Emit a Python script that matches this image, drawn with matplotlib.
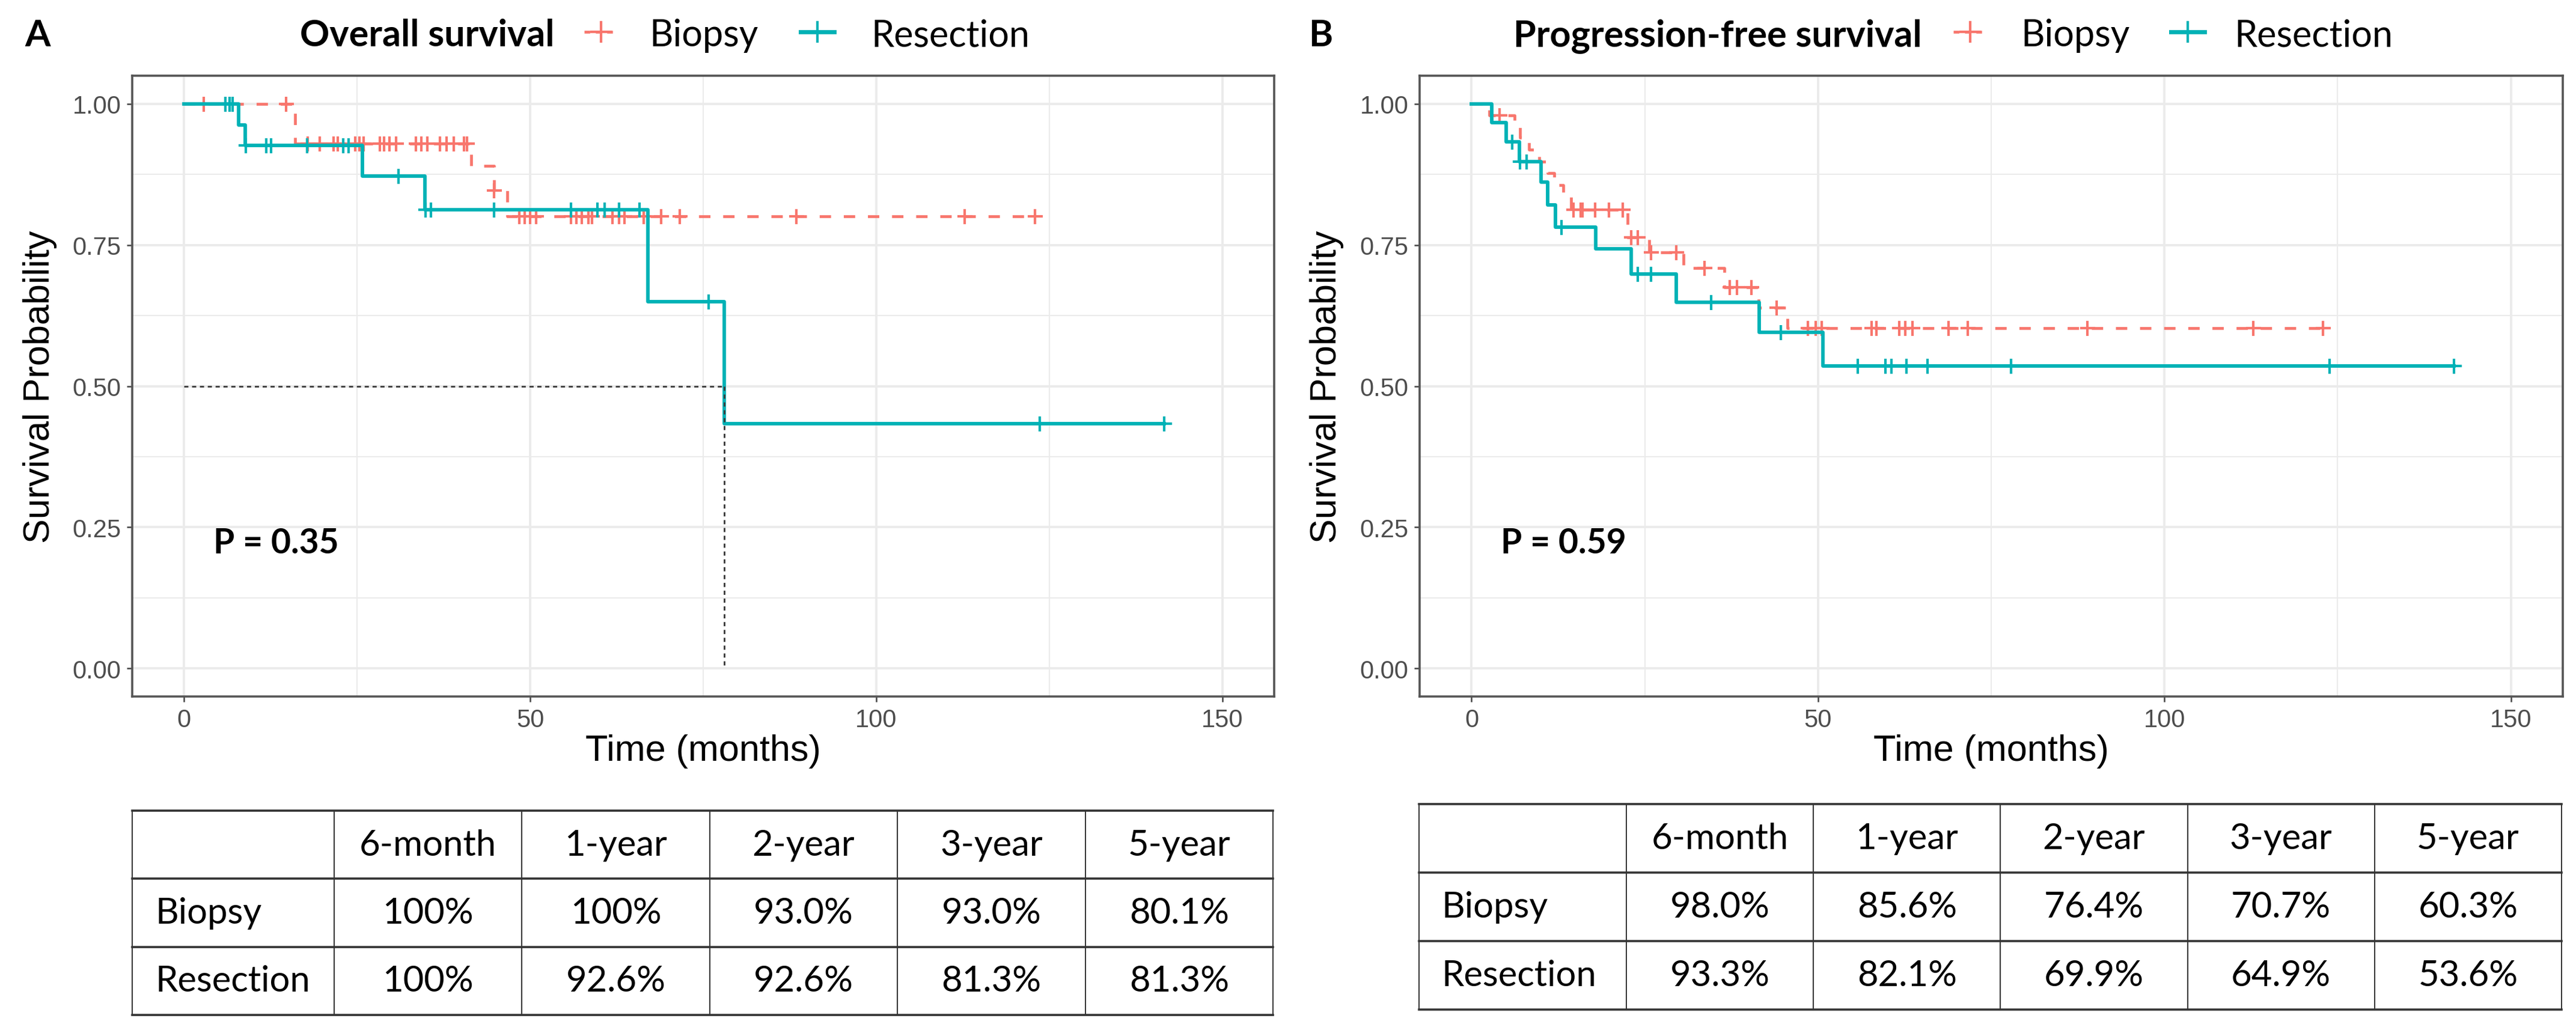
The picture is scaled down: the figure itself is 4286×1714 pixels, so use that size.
import numpy as np
import matplotlib
matplotlib.use('Agg')
import matplotlib.pyplot as plt
from matplotlib.lines import Line2D

# ---------------- data ----------------
groups = ['Biopsy', 'Resection']

# Overall survival (months)
os_biopsy_t = [0, 16.0, 41.5, 44.8, 46.7]
os_biopsy_s = [1.0, 0.930, 0.890, 0.847, 0.801]
os_biopsy_end = 122.9
os_biopsy_censor = [2.8, 14.7, 17.9, 19.6, 21.6, 22.2, 24.7, 25.3, 25.9, 28.3, 28.9,
                    29.7, 30.6, 33.5, 34.3, 35.1, 37.0, 37.9, 39.0, 40.4, 40.9, 44.8,
                    48.4, 49.2, 50.0, 50.9, 55.9, 56.7, 57.5, 58.4, 58.9, 61.9, 62.8,
                    63.6, 66.4, 68.9, 71.6, 88.5, 112.8, 122.9]

os_resection_t = [0, 7.9, 8.8, 25.8, 34.8, 67.0, 78.0]
os_resection_s = [1.0, 0.963, 0.926, 0.872, 0.813, 0.650, 0.433]
os_resection_end = 141.6
os_resection_censor = [6.0, 6.6, 7.0, 8.9, 11.9, 12.6, 17.8, 23.0, 23.8, 31.0, 34.9,
                       35.7, 44.8, 55.9, 59.7, 60.8, 62.8, 65.8, 75.8, 123.6, 141.6]

# Progression-free survival (months)
pfs_biopsy_t = [0, 2.6, 6.2, 7.0, 8.3, 9.8, 11.0, 11.9, 13.2, 14.4, 22.5, 25.6,
                30.6, 36.5, 41.4, 45.6]
pfs_biopsy_s = [1.0, 0.980, 0.960, 0.940, 0.919, 0.898, 0.877, 0.856, 0.835, 0.813,
                0.764, 0.737, 0.709, 0.675, 0.639, 0.603]
pfs_biopsy_end = 122.9
pfs_biopsy_censor = [4.05, 14.7, 15.75, 16.0, 17.8, 19.8, 21.8, 23.0, 24.0, 25.9, 29.5,
                     33.6, 37.3, 38.3, 40.4, 44.0, 48.5, 49.7, 50.5, 57.7, 58.4, 61.7,
                     62.6, 63.6, 68.8, 71.6, 88.9, 112.8, 122.9]

pfs_resection_t = [0, 2.9, 5.0, 6.9, 10.0, 11.0, 12.1, 17.9, 23.0, 29.5, 41.5, 50.7]
pfs_resection_s = [1.0, 0.967, 0.933, 0.898, 0.861, 0.821, 0.782, 0.743, 0.699, 0.649,
                   0.595, 0.536]
pfs_resection_end = 141.8
pfs_resection_censor = [5.9, 6.95, 7.9, 13.0, 24.0, 25.9, 34.6, 44.6, 55.7, 59.7, 60.6,
                        62.8, 65.8, 77.9, 123.8, 141.8]

os_pvalue = 'P = 0.35'
pfs_pvalue = 'P = 0.59'

periods = ['6-month', '1-year', '2-year', '3-year', '5-year']
os_table_biopsy = ['100%', '100%', '93.0%', '93.0%', '80.1%']
os_table_resection = ['100%', '92.6%', '92.6%', '81.3%', '81.3%']
pfs_table_biopsy = ['98.0%', '85.6%', '76.4%', '70.7%', '60.3%']
pfs_table_resection = ['93.3%', '82.1%', '69.9%', '64.9%', '53.6%']

x_major = [0, 50, 100, 150]
x_minor = [25, 75, 125]
y_major = [0.0, 0.25, 0.5, 0.75, 1.0]
y_minor = [0.125, 0.375, 0.625, 0.875]
y_ticklabels = ['0.00', '0.25', '0.50', '0.75', '1.00']

# ---------------- style ----------------
W, H = 4286, 1715
DPI = 100
RED = '#F8766D'
TEAL = '#00B2B6'
GRID = '#EBEBEB'
HFONT = 'Lato'
AFONT = 'Liberation Sans'

fig = plt.figure(figsize=(W / DPI, H / DPI), dpi=DPI)


def rect(x0, y0, x1, y1):
    return [x0 / W, 1 - y1 / H, (x1 - x0) / W, (y1 - y0) / H]


def step_xy(t, s, end):
    return list(t) + [end], list(s) + [s[-1]]


def surv_at(t, s, c):
    idx = np.searchsorted(np.asarray(t), np.asarray(c), side='right') - 1
    return np.asarray(s)[idx]


def km_panel(box, curves, pval, median=None):
    ax = fig.add_axes(rect(*box))
    ax.set_xlim(-7.5, 157.5)
    ax.set_ylim(-0.05, 1.05)
    ax.set_xticks(x_major)
    ax.set_xticks(x_minor, minor=True)
    ax.set_yticks(y_major)
    ax.set_yticks(y_minor, minor=True)
    ax.set_yticklabels(y_ticklabels)
    ax.grid(which='major', color=GRID, lw=2.8)
    ax.grid(which='minor', color=GRID, lw=1.5)
    ax.set_axisbelow(True)
    for sp in ax.spines.values():
        sp.set_color('#555555')
        sp.set_linewidth(2.6)
    ax.tick_params(which='major', length=6.5, width=1.8, color='#444444',
                   labelsize=30, labelcolor='#4D4D4D', pad=7)
    ax.tick_params(which='minor', length=0)
    for lab in ax.get_xticklabels() + ax.get_yticklabels():
        lab.set_fontfamily(AFONT)

    for (t, s, end, cens, color, style, lw, z) in curves:
        xs, ys = step_xy(t, s, end)
        if style == 'dashed':
            ax.step(xs, ys, where='post', color=color, lw=lw, ls=(0, (4, 4.5)), zorder=z)
        else:
            ax.step(xs, ys, where='post', color=color, lw=lw, zorder=z)
        ax.plot(cens, surv_at(t, s, cens), ls='none', marker='+', ms=18, mew=3.0,
                color=color, zorder=z)

    if median is not None:
        t, s = median
        idx = int(np.argmax(np.asarray(s) <= 0.5))
        tm = t[idx]
        ax.plot([0, tm], [0.5, 0.5], color='#3a3a3a', lw=2.0, ls=(0, (2.5, 2.2)), zorder=5)
        ax.plot([tm, tm], [0.5, 0.0], color='#3a3a3a', lw=2.0, ls=(0, (2.5, 2.2)), zorder=5)

    ax.text(4.2, 0.222, pval, fontfamily=HFONT, fontweight='bold', fontsize=41,
            ha='left', va='center')
    ax.set_xlabel('Time (months)', fontfamily=AFONT, fontsize=44)
    ax.set_ylabel('Survival Probability', fontfamily=AFONT, fontsize=44)
    ax.xaxis.set_label_coords(0.5, -0.060)
    ax.yaxis.set_label_coords(-0.066, 0.5)
    ax.xaxis.label.set_va('top')
    return ax


def header(letter, lx, title, tx, k1, l1x, k2, l2x):
    base = 1 - 77 / H
    fig.text(lx / W, base, letter, fontfamily=HFONT, fontweight='bold', fontsize=44,
             ha='left', va='baseline')
    fig.text(tx / W, base, title, fontfamily=HFONT, fontweight='bold', fontsize=44,
             ha='left', va='baseline')
    ky = 1 - 54 / H
    for cx, color, ls, lw in [(k1, RED, (0, (2.0, 2.0)), 3.4), (k2, TEAL, '-', 5.0)]:
        fig.add_artist(Line2D([(cx - 28) / W, (cx + 28) / W], [ky, ky],
                              transform=fig.transFigure, color=color, ls=ls, lw=lw))
        fig.add_artist(Line2D([cx / W], [ky], transform=fig.transFigure, color=color,
                              marker='+', ms=26, mew=3.0, ls='none'))
    fig.text(l1x / W, base, groups[0], fontfamily=HFONT, fontsize=44,
             ha='left', va='baseline')
    fig.text(l2x / W, base, groups[1], fontfamily=HFONT, fontsize=44,
             ha='left', va='baseline')


def table(box, label_w, row_values):
    tax = fig.add_axes(rect(*box))
    tax.set_xlim(0, 1)
    tax.set_ylim(0, 1)
    tax.axis('off')
    width_px = box[2] - box[0]
    lf = label_w / width_px
    n = len(periods)
    xs = [0, lf] + [lf + (1 - lf) * (i + 1) / n for i in range(n)]
    nr = len(row_values) + 1
    ys = [1 - i / nr for i in range(nr + 1)]
    for y in ys:
        tax.plot([0, 1], [y, y], color='#333333', lw=2.6, solid_capstyle='projecting',
                 clip_on=False)
    for x in xs:
        tax.plot([x, x], [0, 1], color='#333333', lw=1.4, clip_on=False)
    for j, p in enumerate(periods):
        tax.text((xs[j + 1] + xs[j + 2]) / 2, (ys[0] + ys[1]) / 2, p, fontfamily=HFONT,
                 fontsize=43, ha='center', va='center')
    for i, (lab, vals) in enumerate(zip(groups, row_values)):
        yc = (ys[i + 1] + ys[i + 2]) / 2
        tax.text(38 / width_px, yc, lab, fontfamily=HFONT, fontsize=43, ha='left',
                 va='center')
        for j, v in enumerate(vals):
            tax.text((xs[j + 1] + xs[j + 2]) / 2, yc, v, fontfamily=HFONT, fontsize=43,
                     ha='center', va='center')


# Panel A
km_panel((220, 127, 2120, 1160),
         [(os_biopsy_t, os_biopsy_s, os_biopsy_end, os_biopsy_censor, RED, 'dashed', 3.4, 3),
          (os_resection_t, os_resection_s, os_resection_end, os_resection_censor, TEAL, 'solid', 4.2, 4)],
         os_pvalue, median=(os_resection_t, os_resection_s))
header('A', 41, 'Overall survival', 499, 1000, 1080, 1360, 1449)
table((220, 1350, 2118, 1690), 336, [os_table_biopsy, os_table_resection])

# Panel B
km_panel((2362, 127, 4264, 1160),
         [(pfs_biopsy_t, pfs_biopsy_s, pfs_biopsy_end, pfs_biopsy_censor, RED, 'dashed', 3.4, 3),
          (pfs_resection_t, pfs_resection_s, pfs_resection_end, pfs_resection_censor, TEAL, 'solid', 4.2, 4)],
         pfs_pvalue)
header('B', 2177, 'Progression-free survival', 2518, 3278, 3362, 3640, 3717)
table((2361, 1339, 4262, 1681), 345, [pfs_table_biopsy, pfs_table_resection])

fig.savefig('out.png', dpi=DPI, facecolor='white')
